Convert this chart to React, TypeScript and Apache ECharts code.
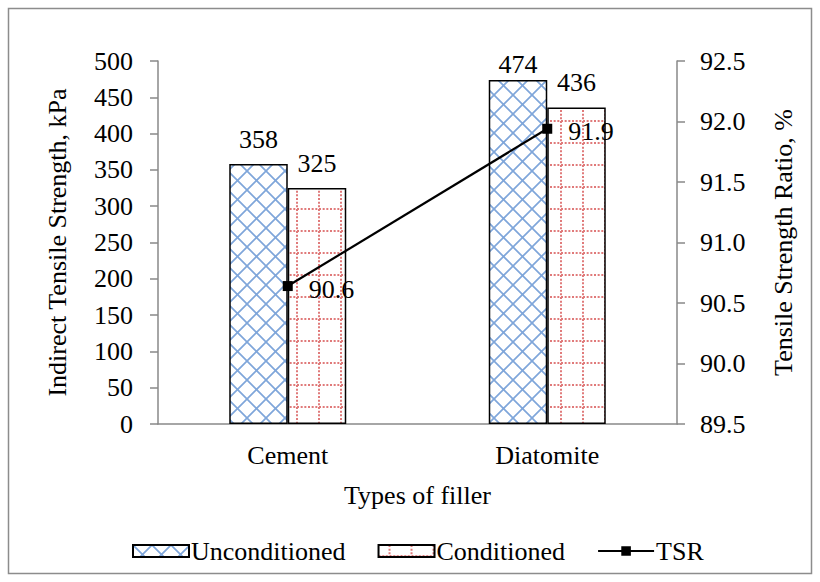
import React, { useEffect, useRef } from "react";
import * as echarts from "echarts";

const categories = ["Cement", "Diatomite"];
const unconditioned = [358, 474];
const conditioned = [325, 436];
const tsr = [90.64, 91.94];
const leftTicks = { min: 0, max: 500, interval: 50 };
const rightTicks = { min: 89.5, max: 92.5, interval: 0.5 };

const FONT = "'Liberation Serif', 'Times New Roman', serif";

const crossSvg =
  "<svg xmlns='http://www.w3.org/2000/svg' width='19' height='19'><path d='M-1 -1L20 20M20 -1L-1 20' stroke='#7fa6da' stroke-width='1.7' fill='none'/></svg>";
const dotSvg =
  "<svg xmlns='http://www.w3.org/2000/svg' width='22' height='22'><path d='M11 0V22M0 11H22' stroke='#e07a7a' stroke-width='2' stroke-dasharray='2 1.6667' fill='none'/></svg>";

const toUrl = (s: string) => "data:image/svg+xml;charset=utf-8," + encodeURIComponent(s);

const css = `.tsr-chart svg text { font-family: 'Liberation Serif', 'Times New Roman', serif !important; }`;

export default function App() {
  const ref = useRef<HTMLDivElement>(null);
  useEffect(() => {
    if (!ref.current) return;
    const chart = echarts.init(ref.current, null, { renderer: "svg" });
    const crossPattern: any = {
      image: toUrl(crossSvg),
      repeat: "repeat",
      imageWidth: 19,
      imageHeight: 19,
    };
    const dotPattern: any = {
      image: toUrl(dotSvg),
      repeat: "repeat",
      imageWidth: 22,
      imageHeight: 22,
    };
    const textBase = { fontFamily: FONT, fontSize: 26, color: "#000" };
    const axisLine = { show: true, lineStyle: { color: "#898989", width: 1.5 } };
    chart.setOption({
      animation: false,
      backgroundColor: "#fff",
      textStyle: { fontFamily: FONT },
      graphic: [
        {
          type: "rect",
          shape: { x: 8.5, y: 8.5, width: 803, height: 565 },
          style: { fill: "none", stroke: "#8c8c8c", lineWidth: 1.5 },
          silent: true,
        },
      ],
      grid: { left: 158, right: 143, top: 61, bottom: 158 },
      legend: {
        top: 533,
        left: 127,
        itemWidth: 56,
        itemHeight: 12,
        itemGap: 32,
        textStyle: { ...textBase, padding: [0, 0, 0, -3] },
        data: [
          { name: "Unconditioned", icon: "rect" },
          { name: "Conditioned", icon: "rect" },
          { name: "TSR" },
        ],
      },
      xAxis: {
        type: "category",
        data: categories,
        name: "Types of filler",
        nameLocation: "middle",
        nameGap: 58,
        nameTextStyle: textBase,
        axisLine,
        axisTick: { show: false },
        axisLabel: { ...textBase, margin: 18 },
      },
      yAxis: [
        {
          type: "value",
          ...leftTicks,
          name: "Indirect Tensile Strength, kPa",
          nameLocation: "middle",
          nameRotate: 90,
          nameGap: 88,
          nameTextStyle: textBase,
          axisLine,
          axisTick: { show: true, length: 8, lineStyle: { color: "#898989", width: 1.5 } },
          axisLabel: { ...textBase, margin: 25 },
          splitLine: { show: false },
        },
        {
          type: "value",
          ...rightTicks,
          position: "right",
          name: "Tensile Strength Ratio, %",
          nameLocation: "middle",
          nameRotate: 90,
          nameGap: 93,
          nameTextStyle: textBase,
          axisLine,
          axisTick: { show: true, length: 8, lineStyle: { color: "#898989", width: 1.5 } },
          axisLabel: { ...textBase, margin: 23, formatter: (v: number) => v.toFixed(1) },
          splitLine: { show: false },
        },
      ],
      series: [
        {
          name: "Unconditioned",
          type: "bar",
          data: unconditioned.map((v, i) =>
            i === 1 ? { value: v, label: { distance: 2 } } : v
          ),
          barWidth: 58.5,
          barGap: "0%",
          itemStyle: { color: crossPattern, borderColor: "#000", borderWidth: 1.5 },
          label: { show: true, position: "top", distance: 12, ...textBase },
        },
        {
          name: "Conditioned",
          type: "bar",
          data: conditioned,
          barWidth: 58.5,
          barGap: "0%",
          itemStyle: { color: dotPattern, borderColor: "#000", borderWidth: 1.5 },
          label: { show: true, position: "top", distance: 12, ...textBase },
        },
        {
          name: "TSR",
          type: "line",
          yAxisIndex: 1,
          data: tsr,
          symbol: "rect",
          symbolSize: 10,
          itemStyle: { color: "#000" },
          lineStyle: { color: "#000", width: 2.2 },
          label: {
            show: true,
            position: "right",
            distance: 16,
            offset: [0, 3],
            ...textBase,
            formatter: (p: any) => Number(p.value).toFixed(1),
          },
          z: 5,
        },
      ],
    });
    return () => chart.dispose();
  }, []);
  return (
    <div>
      <style>{css}</style>
      <div
        ref={ref}
        className="tsr-chart"
        style={{ position: "fixed", left: 0, top: 0, width: 820, height: 582 }}
      />
    </div>
  );
}
